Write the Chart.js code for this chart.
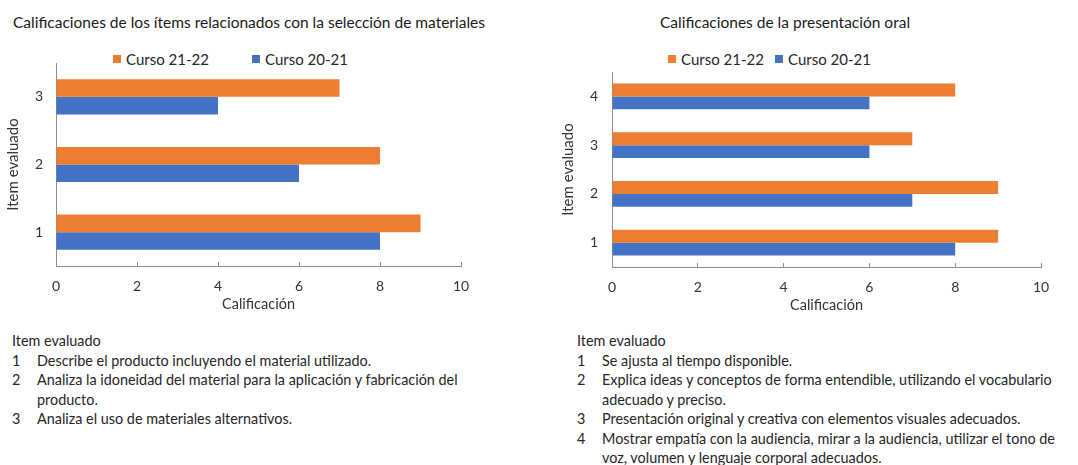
<!DOCTYPE html>
<html>
<head>
<meta charset="utf-8">
<script src="https://cdn.jsdelivr.net/npm/chart.js@4.4.1/dist/chart.umd.min.js"></script>
<style>
  body { margin: 0; background: #fff; font-family: Lato, sans-serif; color: #262626; }
  #page { position: relative; width: 1078px; height: 465px; overflow: hidden; }
  .box { position: absolute; }
  .title { position: absolute; font-size: 15.5px; white-space: nowrap; transform: translate(-50%, -50%); color: #1a1a1a; }
  .leg { position: absolute; font-size: 15px; white-space: nowrap; display: flex; align-items: center; transform: translateY(-50%); color: #262626; }
  .leg i { display: inline-block; width: 8px; height: 8px; margin-right: 5px; }
  .notes { position: absolute; font-size: 14.4px; line-height: 19.5px; color: #262626; white-space: nowrap; }
  .notes .row { display: flex; }
  .notes .n { width: 25px; flex: none; }
</style>
</head>
<body>
<div id="page">
  <div class="title" style="left:249px; top:22px;">Calificaciones de los ítems relacionados con la selección de materiales</div>
  <div class="title" style="left:785px; top:22px;">Calificaciones de la presentación oral</div>

  <div id="legMat"></div>
  <div id="legOral"></div>

  <canvas id="chartMat" class="box" style="left:0; top:0;" width="540" height="320"></canvas>
  <canvas id="chartOral" class="box" style="left:540px; top:0;" width="538" height="320"></canvas>

  <div class="notes" id="notesMat" style="left:12px; top:331px;"></div>
  <div class="notes" id="notesOral" style="left:577px; top:331px;"></div>
</div>

<script>
const seriesNames = ['Curso 21-22', 'Curso 20-21'];
const seriesColors = ['#ED7D31', '#4472C4'];

// Selección de materiales
const itemsMat = ['1', '2', '3'];
const mat2122 = [9, 8, 7];
const mat2021 = [8, 6, 4];
const notesMat = [
    'Describe el producto incluyendo el material utilizado.',
    'Analiza la idoneidad del material para la aplicación y fabricación del<br>producto.',
    'Analiza el uso de materiales alternativos.'
];

// Presentación oral
const itemsOral = ['1', '2', '3', '4'];
const oral2122 = [9, 9, 7, 8];
const oral2021 = [8, 7, 6, 6];
const notesOral = [
    'Se ajusta al tiempo disponible.',
    'Explica ideas y conceptos de forma entendible, utilizando el vocabulario<br>adecuado y preciso.',
    'Presentación original y creativa con elementos visuales adecuados.',
    'Mostrar empatía con la audiencia, mirar a la audiencia, utilizar el tono de<br>voz, volumen y lenguaje corporal adecuados.'
];

const xTicks = [0, 2, 4, 6, 8, 10];

const axisGrey = '#8c8c8c';
const tickFont = { family: 'Lato', size: 14 };
const labelColor = '#333333';

function makeChart(id, items, a, b, cfg) {
    const ctx = document.getElementById(id).getContext('2d');
    return new Chart(ctx, {
        type: 'bar',
        data: {
            labels: items,
            datasets: [
                { label: seriesNames[0], data: a, backgroundColor: seriesColors[0] },
                { label: seriesNames[1], data: b, backgroundColor: seriesColors[1] }
            ]
        },
        options: {
            responsive: false,
            animation: false,
            indexAxis: 'y', // horizontal bars
            categoryPercentage: cfg.catPct,
            barPercentage: 1.0,
            layout: { padding: cfg.padding },
            scales: {
                x: {
                    min: 0,
                    max: 10,
                    afterBuildTicks: function(scale) {
                        scale.ticks = xTicks.map(v => ({ value: v }));
                    },
                    afterFit: function(scale) { scale.height = 50; },
                    grid: { drawOnChartArea: false, drawTicks: true, tickLength: -4, color: axisGrey },
                    border: { color: axisGrey, width: 1 },
                    ticks: { color: labelColor, font: tickFont, padding: 16, maxRotation: 0 },
                    title: { display: true, text: 'Calificación', color: labelColor, font: { family: 'Lato', size: 14.5 }, padding: { top: 3, bottom: 3 } }
                },
                y: {
                    reverse: true,
                    afterFit: function(scale) { scale.width = cfg.yWidth; },
                    grid: { display: false },
                    border: { color: axisGrey, width: 1 },
                    ticks: { color: labelColor, font: tickFont, padding: cfg.yPad },
                    title: { display: true, text: 'Item evaluado', color: labelColor, font: { family: 'Lato', size: 15 }, padding: { top: 4, bottom: 4 } }
                }
            },
            plugins: {
                legend: { display: false },
                tooltip: { enabled: false }
            }
        }
    });
}

function buildLegend(elId, chart, lefts, top) {
    const wrap = document.getElementById(elId);
    chart.data.datasets.forEach((ds, i) => {
        const d = document.createElement('div');
        d.className = 'leg';
        d.style.left = lefts[i] + 'px';
        d.style.top = top + 'px';
        d.innerHTML = '<i style="background:' + ds.backgroundColor + '"></i>' + ds.label;
        wrap.appendChild(d);
    });
}

function buildNotes(elId, items, notes) {
    const el = document.getElementById(elId);
    let html = '<div>Item evaluado</div>';
    items.forEach((it, i) => {
        html += '<div class="row"><span class="n">' + it + '</span><span>' + notes[i] + '</span></div>';
    });
    el.innerHTML = html;
}

const chartMat = makeChart('chartMat', itemsMat, mat2122, mat2021, {
    catPct: 0.52,
    padding: { left: 0, right: 79, top: 63, bottom: 4 },
    yWidth: 56,
    yPad: 5
});
const chartOral = makeChart('chartOral', itemsOral, oral2122, oral2021, {
    catPct: 0.53,
    padding: { left: 15, right: 37, top: 72, bottom: 3 },
    yWidth: 57,
    yPad: 6
});

buildLegend('legMat', chartMat, [113, 252], 59);
buildLegend('legOral', chartOral, [668, 775], 59);
buildNotes('notesMat', itemsMat, notesMat);
buildNotes('notesOral', itemsOral, notesOral);
</script>
</body>
</html>
